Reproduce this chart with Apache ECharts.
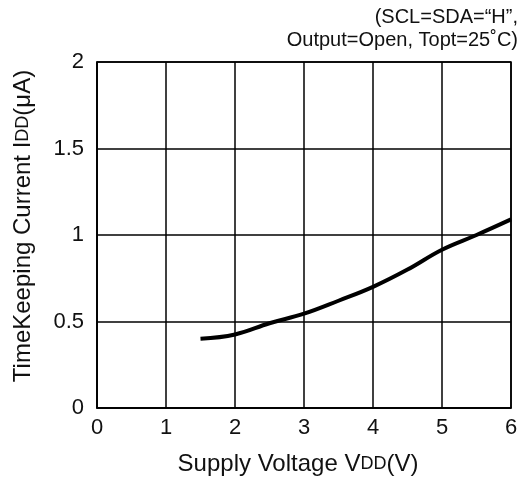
<!DOCTYPE html>
<html>
<head>
<meta charset="utf-8">
<script src="https://cdn.jsdelivr.net/npm/echarts@6/dist/echarts.min.js"></script>
<style>
  html, body { margin: 0; padding: 0; background: #fff; }
  #chart { width: 523px; height: 482px; }
</style>
</head>
<body>
<div id="chart"></div>
<script>
// supply voltage (V) vs timekeeping current (uA)
const voltage = [1.5, 2, 2.5, 3, 3.5, 4, 4.5, 5, 5.5, 6];
const current = [0.40, 0.425, 0.49, 0.545, 0.62, 0.70, 0.80, 0.915, 1.0, 1.09];
const noteLines = ['(SCL=SDA=\u201cH\u201d,', 'Output=Open, Topt=25\u02daC)'];

const font = 'Liberation Sans, Arial, sans-serif';
const ink = '#111';
const chart = echarts.init(document.getElementById('chart'));

chart.setOption({
  animation: false,
  backgroundColor: '#fff',
  textStyle: { fontFamily: font, color: ink },
  graphic: noteLines.map((t, i) => ({
    type: 'text',
    right: 5,
    top: 7 + i * 23,
    style: { text: t, font: '20px ' + font, fill: ink, textAlign: 'right' }
  })),
  grid: {
    left: 97, top: 62, width: 414, height: 346,
    show: true, borderColor: '#000', borderWidth: 1.5
  },
  xAxis: {
    type: 'value',
    min: 0, max: 6, interval: 1,
    name: 'Supply Voltage V{s|DD}(V)',
    nameLocation: 'middle',
    nameGap: 44,
    nameTextStyle: {
      fontFamily: font, fontSize: 24, color: ink,
      padding: [0, 12, 0, 0],
      rich: { s: { fontFamily: font, fontSize: 18, color: ink } }
    },
    axisLine: { lineStyle: { color: '#000', width: 1.5 } },
    axisTick: { show: false },
    axisLabel: { fontFamily: font, fontSize: 22, color: ink, margin: 9 },
    splitLine: { lineStyle: { color: '#000', width: 1.5 } }
  },
  yAxis: {
    type: 'value',
    min: 0, max: 2, interval: 0.5,
    name: 'TimeKeeping Current I{s|DD}(\u03bcA)',
    nameLocation: 'middle',
    nameGap: 62,
    nameTextStyle: {
      fontFamily: font, fontSize: 24, color: ink,
      padding: [0, 0, 0, 18],
      rich: { s: { fontFamily: font, fontSize: 18, color: ink } }
    },
    axisLine: { show: true, lineStyle: { color: '#000', width: 1.5 } },
    axisTick: { show: false },
    axisLabel: { fontFamily: font, fontSize: 22, color: ink, margin: 13 },
    splitLine: { lineStyle: { color: '#000', width: 1.5 } }
  },
  series: [{
    type: 'line',
    data: voltage.map((v, i) => [v, current[i]]),
    smooth: 0.4,
    showSymbol: false,
    lineStyle: { color: '#000', width: 4 }
  }]
});
</script>
</body>
</html>
